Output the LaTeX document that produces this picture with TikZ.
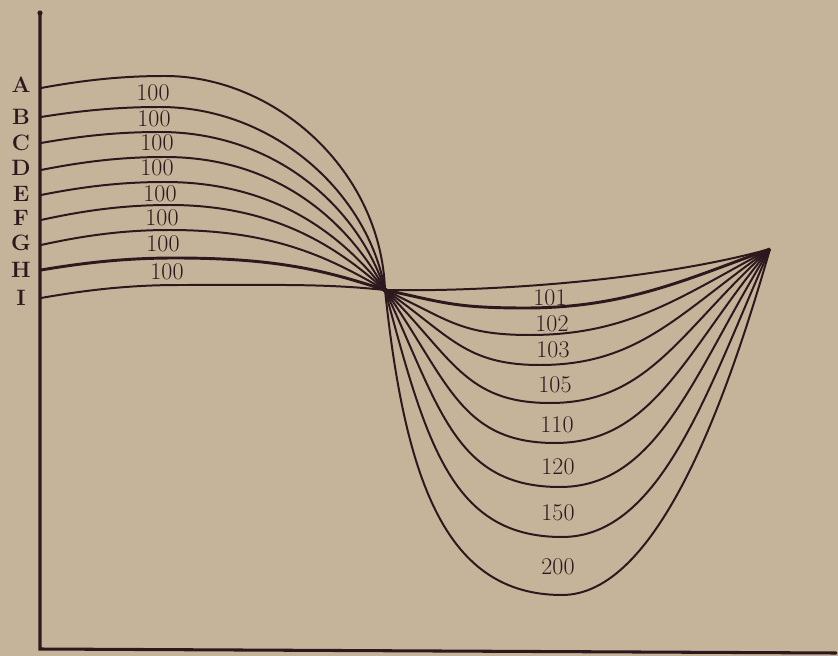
\documentclass[tikz,border=0pt]{standalone}
\usetikzlibrary{calc}
\definecolor{paper}{RGB}{197,180,154}
\definecolor{ink}{RGB}{45,24,30}

\begin{document}
\begin{tikzpicture}[
  x=0.03cm, y=-0.03cm,
  axis/.style={draw=ink, line width=2.6pt, line cap=round},
  curve/.style={draw=ink, line width=1.7pt},
  letter/.style={text=ink, inner sep=0pt, font=\fontsize{19}{19}\selectfont\bfseries},
  num/.style={text=ink, inner sep=0pt, font=\fontsize{20.5}{20.5}\selectfont}
]
\fill[paper] (0,0) rectangle (838,656);
\useasboundingbox (0,0) rectangle (838,656);

\coordinate (top) at (40,13);
\coordinate (origin) at (40,649);
\coordinate (xend) at (836,653);
\coordinate (pivot) at (385,290);
\coordinate (apex) at (770,249);

% axes
\draw[axis] (top) -- (origin) -- (xend);
\fill[ink] (top) circle (2.2pt);

% left family, all meeting at the pivot
\foreach \n/\sy/\px/\py/\ang/\hl/\ly/\w in {
  A/88/165/76/88/120/85/1.7, B/117/160/107/80/100/117/1.7,
  C/143/160/132/72/90/143/1.7, D/170/165/157/62/80/168/1.7,
  E/195/165/182/52/70/194/1.7, F/220/170/205/42/60/218/1.7,
  G/245/170/230/30/60/243/1.7, H/270/175/258/18/60/270/2.5,
  I/298/180/285/6/60/298/1.7}
{
  \coordinate (s\n) at (41,\sy);
  \node[letter] (l\n) at (21,\ly) {\n};
  \draw[curve, line width=\w pt] (s\n)
    .. controls ({40+0.4*(\px-40)},{\py+0.25*(\sy-\py)}) and ({\px-0.3*(\px-40)},\py) .. (\px,\py)
    .. controls ({\px+0.5*(385-\px)},\py) and ({385-\hl*cos(\ang)},{290-\hl*sin(\ang)}) .. (pivot);
}
\foreach \n/\lx/\ly in {A/153/93, B/154/119, C/157/143, D/157/168,
                        E/160/194, F/162/218, G/163/244, H/167/272}
  \node[num] (c\n) at (\lx,\ly) {100};

% right family, all meeting at the apex
\draw[curve] (pivot) .. controls (480,292) and (650,282) .. (apex);
\foreach \lab/\dep/\La/\bx/\by/\ha/\hb/\arr/\Lb/\lx/\ly/\w in {
  101/12/60/525/308/70/100/20/90/550/298/2.5,
  102/25/70/530/335/70/100/28/100/552/324/1.7,
  103/35/80/540/365/75/100/35/110/553/350/1.7,
  105/45/95/550/403/85/100/42/120/555/385/1.7,
  110/55/110/555/443/95/100/50/130/557/425/1.7,
  120/65/130/560/487/105/100/58/140/558/467/1.7,
  150/75/160/562/537/110/100/66/150/558/513/1.7,
  200/84/195/562/595/115/95/74/160/558/567/1.7}
{
  \draw[curve, line width=\w pt] (pivot)
    .. controls ({385+\La*cos(\dep)},{290+\La*sin(\dep)}) and ({\bx-\ha},\by) .. (\bx,\by)
    .. controls ({\bx+\hb},\by) and ({770-\Lb*cos(\arr)},{249+\Lb*sin(\arr)}) .. (apex);
  \node[num] (n\lab) at (\lx,\ly) {\lab};
}
\fill[ink] (pivot) circle (2.2pt);
\end{tikzpicture}
\end{document}
